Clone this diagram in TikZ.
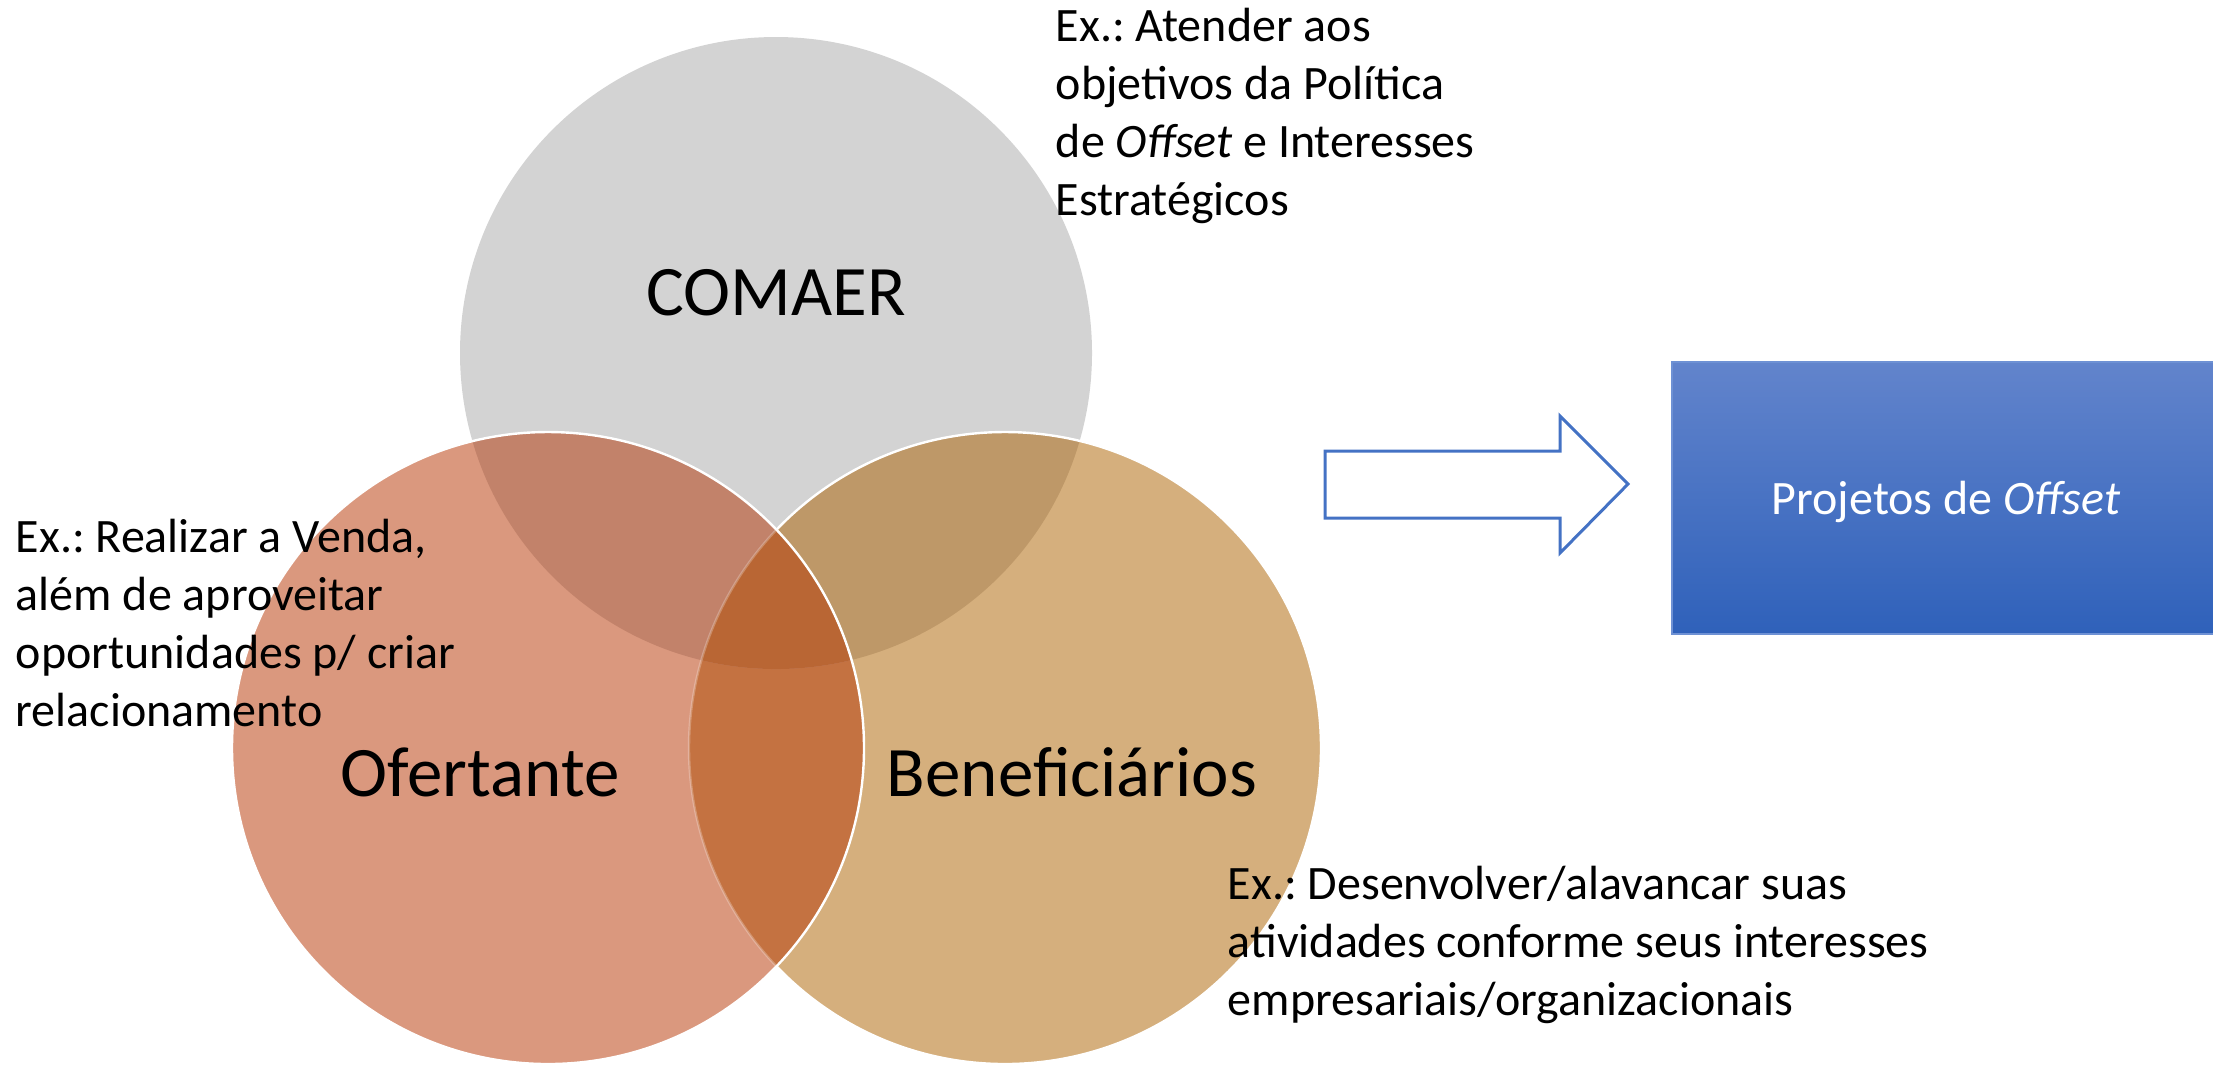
\documentclass[tikz,border=0pt]{standalone}
\usepackage{fontspec}
\setmainfont{Carlito}
\frenchspacing
\definecolor{cgray}{RGB}{211,211,211}
\definecolor{cofe}{RGB}{218,152,126}
\definecolor{cben}{RGB}{213,175,125}
\definecolor{cco}{RGB}{194,130,106}
\definecolor{ccb}{RGB}{190,152,104}
\definecolor{cob}{RGB}{196,114,65}
\definecolor{call}{RGB}{185,102,52}
\definecolor{arrowblue}{RGB}{68,114,196}
\definecolor{boxtop}{RGB}{98,132,204}
\definecolor{boxbot}{RGB}{47,97,186}
\definecolor{boxedge}{RGB}{110,145,212}

\begin{document}
\begin{tikzpicture}[x=0.25pt, y=-0.25pt,
    note/.style = {anchor=north west, align=left, inner sep=0pt,
                   font=\fontsize{12pt}{14.5pt}\selectfont},% texts beside the circles
     big/.style = {anchor=base, inner sep=0pt,
                   font=\fontsize{17.75pt}{21pt}\selectfont},% names in the circles
    ring/.style = {draw=white, line width=0.6pt},
    proj/.style = {rectangle, draw=boxedge, top color=boxtop, bottom color=boxbot,
                   minimum width=137pt, minimum height=68pt, inner sep=0pt,
                   text depth=0pt, text=white,
                   font=\fontsize{12pt}{14.5pt}\selectfont},
                        ]
\useasboundingbox (0,0) rectangle (2213,1065);
\def\R{79pt}
\coordinate (c) at (776,353);% COMAER
\coordinate (o) at (548,748);% Ofertante
\coordinate (b) at (1005,748);% Beneficiarios
% circles
\fill[cgray] (c) circle (\R);
\fill[cben] (b) circle (\R);
\begin{scope}
\clip (c) circle (\R);
\fill[ccb] (b) circle (\R);
\end{scope}
\draw[ring] (b) circle (\R);
\fill[cofe] (o) circle (\R);
\begin{scope}
\clip (o) circle (\R);
\fill[cob] (b) circle (\R);
\begin{scope}
\clip (c) circle (\R);
\fill[cco] (o) circle (\R);
\fill[call] (b) circle (\R);
\end{scope}
\draw[ring, draw opacity=0.25] (b) circle (\R);
\end{scope}
\draw[ring] (o) circle (\R);
% names
\node[big] (comaer) at (776,315) {COMAER};
\node[big] (ofertante) at (480,796) {Ofertante};
\node[big] (benef) at (1072,796) {Beneficiários};
% examples
\node[note] (excomaer) at (1055,7) {Ex.: Atender aos\\ objetivos da Política\\
    de \textit{Offset} e Interesses\\ Estratégicos};
\node[note] (exofe) at (15,518) {Ex.: Realizar a Venda,\\ além de aproveitar\\
    oportunidades p/ criar\\ relacionamento};
\node[note] (exben) at (1227,865) {Ex.: Desenvolver/alavancar suas\\
    atividades conforme seus interesses\\ empresariais/organizacionais};
% arrow and result
\draw[arrowblue, line width=0.75pt, line join=miter]
    (1325,451) -- (1560,451) -- (1560,416) -- (1628,484)
    -- (1560,553) -- (1560,518) -- (1325,518) -- cycle;
\node[proj] (projetos) at (1946,498) {Projetos de \textit{Offset}};
\end{tikzpicture}
\end{document}
